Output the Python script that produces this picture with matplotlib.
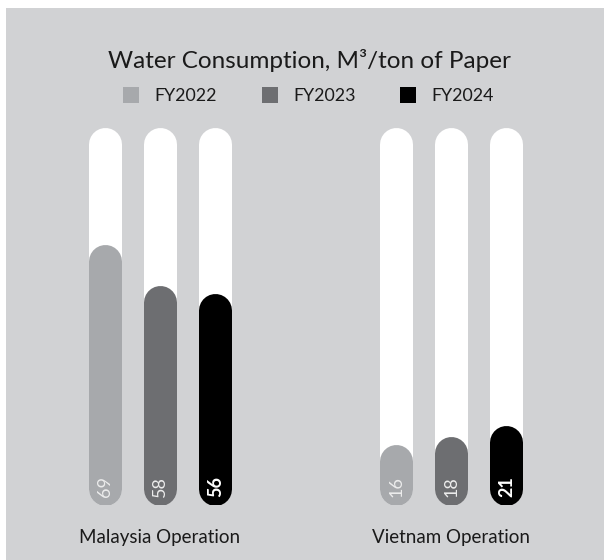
import matplotlib.pyplot as plt
from matplotlib.patches import Rectangle

plt.rcParams['font.family'] = ['Lato', 'DejaVu Sans']

# data
groups = ['Malaysia Operation', 'Vietnam Operation']
years = ['FY2022', 'FY2023', 'FY2024']
values = {
    'FY2022': [69, 16],
    'FY2023': [58, 18],
    'FY2024': [56, 21],
}
track_max = 100
colors = ['#a7a9ac', '#6d6e71', '#000000']
bg = '#d1d2d4'

W, H = 604, 560
fig = plt.figure(figsize=(W / 100, H / 100), dpi=100)
fig.patch.set_facecolor('white')
# grey panel
fig.patches.append(Rectangle((6 / W, 0), 1, 1 - 8 / H, transform=fig.transFigure,
                             facecolor=bg, edgecolor='none', zorder=0))

# axes: y=0 at px 505, y=100 at px 127
y0_px, y1_px = 505, 127
ax = fig.add_axes([0, (H - y0_px) / H, 1, (y0_px - y1_px) / H])
ax.set_zorder(2)
ax.set_facecolor('none')
ax.axis('off')
grp_px = [159.5, 451]
unit = grp_px[1] - grp_px[0]
ax.set_xlim(-grp_px[0] / unit, (W - grp_px[0]) / unit)
ax.set_ylim(0, track_max)

bar_px = 33
px_per_unit = (y0_px - y1_px) / track_max
r = bar_px / 2 / px_per_unit  # cap radius in data units
lw = bar_px * 72 / 100
offsets = [-55 / unit, 0, 55 / unit]

for i, yr in enumerate(years):
    for g in range(len(groups)):
        x = g + offsets[i]
        v = values[yr][g]
        ax.plot([x, x], [r, track_max - r], color='white', lw=lw,
                solid_capstyle='round', zorder=1)
        ax.plot([x, x], [r, v - r], color=colors[i], lw=lw,
                solid_capstyle='round', zorder=2)
        bold = yr == 'FY2024'
        ax.text(x + 0.003, 4.9, str(v), rotation=90, ha='center', va='center',
                color='white' if bold else '#ececec', fontsize=13,
                fontweight='bold' if bold else 'normal', zorder=3)

for g, name in enumerate(groups):
    fig.text(grp_px[g] / W, 1 - 537 / H, name, ha='center', va='center',
             fontsize=13.5, color='#1a1a1a')

fig.text(309 / W, 1 - 60 / H, 'Water Consumption, M³/ton of Paper', ha='center',
         va='center', fontsize=17.5, color='#1a1a1a')

leg_sq = [131, 270, 408]
for i, yr in enumerate(years):
    fig.patches.append(Rectangle(((leg_sq[i] - 8) / W, 1 - 103 / H), 16 / W, 16 / H,
                                 transform=fig.transFigure, facecolor=colors[i],
                                 edgecolor='none', zorder=1))
    fig.text((leg_sq[i] + 23) / W, 1 - 96 / H, yr, ha='left', va='center',
             fontsize=12.8, color='#1a1a1a')

fig.savefig('out.png', dpi=100)
